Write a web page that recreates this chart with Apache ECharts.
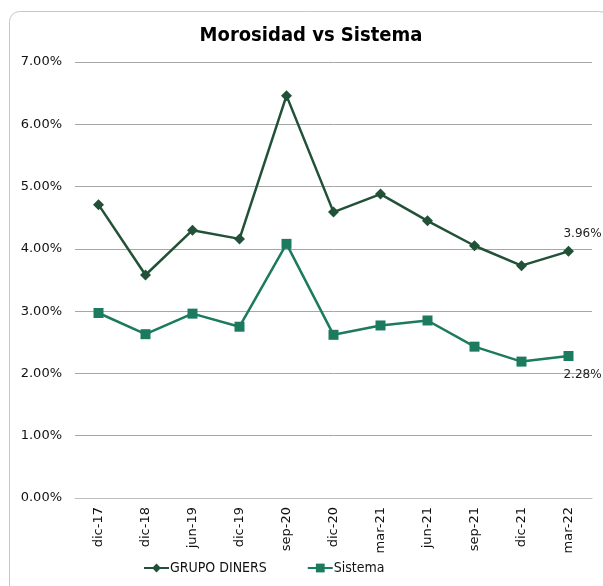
<!DOCTYPE html>
<html><head><meta charset="utf-8">
<script src="https://cdn.jsdelivr.net/npm/echarts@6/dist/echarts.min.js"></script>
<style>html,body{margin:0;padding:0;background:#fff;}#c{width:603px;height:586px;}</style>
</head><body><div id="c"></div>
<script>
var categories = ['dic-17','dic-18','jun-19','dic-19','sep-20','dic-20','mar-21','jun-21','sep-21','dic-21','mar-22'];
var grupoDiners = [4.71, 3.58, 4.30, 4.16, 6.46, 4.59, 4.88, 4.45, 4.05, 3.73, 3.96];
var sistema = [2.97, 2.63, 2.96, 2.75, 4.08, 2.62, 2.77, 2.85, 2.43, 2.19, 2.28];
var yTicks = [0, 1, 2, 3, 4, 5, 6, 7];

var chart = echarts.init(document.getElementById('c'));
var font = 'DejaVu Sans';
var cfont = 'DejaVu Sans Condensed';
function lastLabel(pos, dy) {
  return {
    show: true, position: pos, distance: 6, offset: [14, dy],
    fontFamily: font, fontSize: 12, color: '#222',
    formatter: function (p) { return p.dataIndex === categories.length - 1 ? p.value.toFixed(2) + '%' : ''; }
  };
}
chart.setOption({
  animation: false,
  graphic: [{ type: 'rect', shape: { x: 9.5, y: 11.5, width: 600, height: 600, r: 10 },
    style: { fill: 'none', stroke: '#c6c6c6', lineWidth: 1 } }],
  title: { text: 'Morosidad vs Sistema', left: 306, top: 21, textAlign: 'center',
    textStyle: { fontFamily: cfont, fontWeight: 'bold', fontSize: 20, color: '#000' } },
  grid: { left: 75, right: 11, top: 62, bottom: 88 },
  legend: { bottom: 6, left: 138, itemGap: 40, itemWidth: 25, itemHeight: 11,
    textStyle: { fontFamily: cfont, fontSize: 14, color: '#111', padding: [0, 0, 0, -4] },
    data: ['GRUPO DINERS', 'Sistema'] },
  xAxis: { type: 'category', data: categories, boundaryGap: true,
    axisLine: { lineStyle: { color: '#bfbfbf', width: 1 } },
    axisTick: { show: false },
    axisLabel: { rotate: 90, fontFamily: font, fontSize: 13, color: '#111', margin: 9 } },
  yAxis: { type: 'value', min: yTicks[0], max: yTicks[yTicks.length - 1], interval: 1,
    axisLine: { show: false }, axisTick: { show: false },
    splitLine: { lineStyle: { color: '#a6a6a6', width: 1 } },
    axisLabel: { fontFamily: font, fontSize: 13, color: '#111', margin: 13,
      formatter: function (v) { return v.toFixed(2) + '%'; } } },
  series: [
    { name: 'GRUPO DINERS', type: 'line', data: grupoDiners, symbol: 'diamond', symbolSize: 11,
      lineStyle: { color: '#215237', width: 2.5 }, itemStyle: { color: '#215237' },
      label: lastLabel('top', 0) },
    { name: 'Sistema', type: 'line', data: sistema, symbol: 'rect', symbolSize: 10,
      lineStyle: { color: '#1c7a5e', width: 2.5 }, itemStyle: { color: '#1c7a5e' },
      label: lastLabel('bottom', 2) }
  ]
});
</script></body></html>
